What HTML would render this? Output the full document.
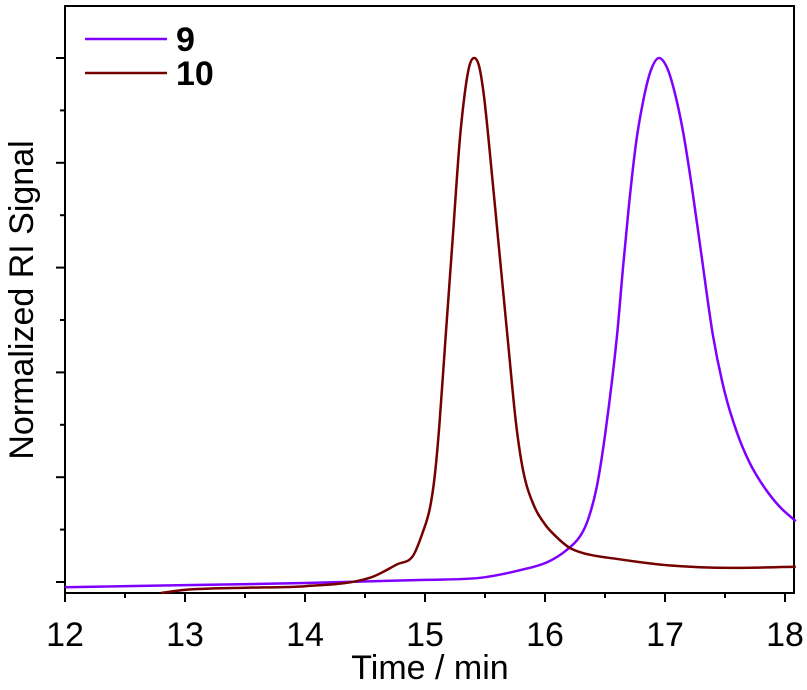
<!DOCTYPE html>
<html><head><meta charset="utf-8"><style>
html,body{margin:0;padding:0;background:#fff;}
svg{display:block;font-family:"Liberation Sans",Arial,sans-serif;}
</style></head><body>
<svg id="chart" width="807" height="690" viewBox="0 0 807 690">
<g id="axes"></g>
<g id="series"></g>
<g>
 <line x1="85" y1="39" x2="167" y2="39" stroke="#8000ff" stroke-width="2.5"/>
 <text x="176" y="51" font-size="34" font-weight="bold">9</text>
 <line x1="85" y1="73" x2="167" y2="73" stroke="#750000" stroke-width="2.5"/>
 <text x="176" y="85" font-size="34" font-weight="bold">10</text>
</g>
<text x="430" y="679" font-size="34" text-anchor="middle">Time / min</text>
<text transform="translate(33,300) rotate(-90)" font-size="34" text-anchor="middle">Normalized RI Signal</text>
</svg>
<script>
const xTicks = [12, 13, 14, 15, 16, 17, 18];
const t9 = [12.0, 13.0, 14.0, 15.0, 15.46, 15.8, 16.02, 16.18, 16.3, 16.36, 16.43, 16.5, 16.6, 16.65, 16.7, 16.76, 16.82, 16.88, 16.95, 17.02, 17.08, 17.15, 17.22, 17.3, 17.4, 17.5, 17.6, 17.7, 17.8, 17.95, 18.09];
const v9 = [-0.01, -0.006, -0.002, 0.004, 0.008, 0.023, 0.038, 0.061, 0.09, 0.12, 0.18, 0.28, 0.47, 0.6, 0.72, 0.84, 0.92, 0.975, 1.0, 0.98, 0.935, 0.86, 0.76, 0.63, 0.47, 0.36, 0.285, 0.23, 0.19, 0.145, 0.116];
const t10 = [12.8, 13.0, 13.5, 14.0, 14.54, 14.77, 14.9, 14.98, 15.04, 15.08, 15.12, 15.17, 15.23, 15.29, 15.33, 15.37, 15.41, 15.45, 15.49, 15.53, 15.61, 15.69, 15.76, 15.82, 15.9, 16.0, 16.1, 16.2, 16.32, 16.6, 17.02, 17.57, 18.09];
const v10 = [-0.021, -0.015, -0.011, -0.008, 0.008, 0.034, 0.05, 0.094, 0.14, 0.2, 0.3, 0.462, 0.653, 0.844, 0.93, 0.985, 1.0, 0.985, 0.93, 0.844, 0.653, 0.462, 0.3, 0.21, 0.15, 0.11, 0.085, 0.066, 0.055, 0.044, 0.032, 0.027, 0.029];

const L=65, R=794, T=6, B=593;
const X = t => L + (t - 12) * 120;
const Y = v => 582 - v * 524;
const NS='http://www.w3.org/2000/svg';
const axes=document.getElementById('axes'), ser=document.getElementById('series');
function mk(tag, parent, attrs){const e=document.createElementNS(NS,tag);for(const k in attrs)e.setAttribute(k,attrs[k]);parent.appendChild(e);return e;}

const frame=mk('rect',axes,{x:L,y:T,width:R-L,height:B-T,fill:'none',stroke:'#000','stroke-width':2});


xTicks.forEach(t=>{
  const l=mk('line',axes,{x1:X(t),x2:X(t),y1:B,y2:B+9,stroke:'#000','stroke-width':2});
  
  
  const tx=mk('text',axes,{x:X(t),y:646,'font-size':34,'text-anchor':'middle'});
  tx.textContent=t;
  
  
  if(X(t+0.5)<R){
    const m=mk('line',axes,{x1:X(t+0.5),x2:X(t+0.5),y1:B,y2:B+5,stroke:'#000','stroke-width':2});
    
    
  }
});
for(let i=0;i<=10;i++){
  const v=i*0.1, major=i%2===0;
  const l=mk('line',axes,{x1:L-(major?9:5),x2:L,y1:Y(v),y2:Y(v),stroke:'#000','stroke-width':2});
  
  
}
function path(ts,vs){
  const x=ts.map(X), y=vs.map(Y), n=x.length;
  const d=[], m=new Array(n);
  for(let i=0;i<n-1;i++) d.push((y[i+1]-y[i])/(x[i+1]-x[i]));
  m[0]=d[0]; m[n-1]=d[n-2];
  for(let i=1;i<n-1;i++) m[i]=(d[i-1]*d[i]<=0)?0:(d[i-1]+d[i])/2;
  for(let i=0;i<n-1;i++){
    if(d[i]===0){m[i]=0;m[i+1]=0;continue;}
    const a=m[i]/d[i], b=m[i+1]/d[i], s=a*a+b*b;
    if(s>9){const k=3/Math.sqrt(s);m[i]=k*a*d[i];m[i+1]=k*b*d[i];}
  }
  let p='M'+x[0]+','+y[0];
  for(let i=0;i<n-1;i++){
    const h=(x[i+1]-x[i])/3;
    p+=' C'+(x[i]+h)+','+(y[i]+m[i]*h)+' '+(x[i+1]-h)+','+(y[i+1]-m[i+1]*h)+' '+x[i+1]+','+y[i+1];
  }
  return p;
}
const s9=mk('path',ser,{d:path(t9,v9),fill:'none',stroke:'#8000ff','stroke-width':2.5,'stroke-linejoin':'round'});


const s10=mk('path',ser,{d:path(t10,v10),fill:'none',stroke:'#750000','stroke-width':2.5,'stroke-linejoin':'round'});


</script>
</body></html>
